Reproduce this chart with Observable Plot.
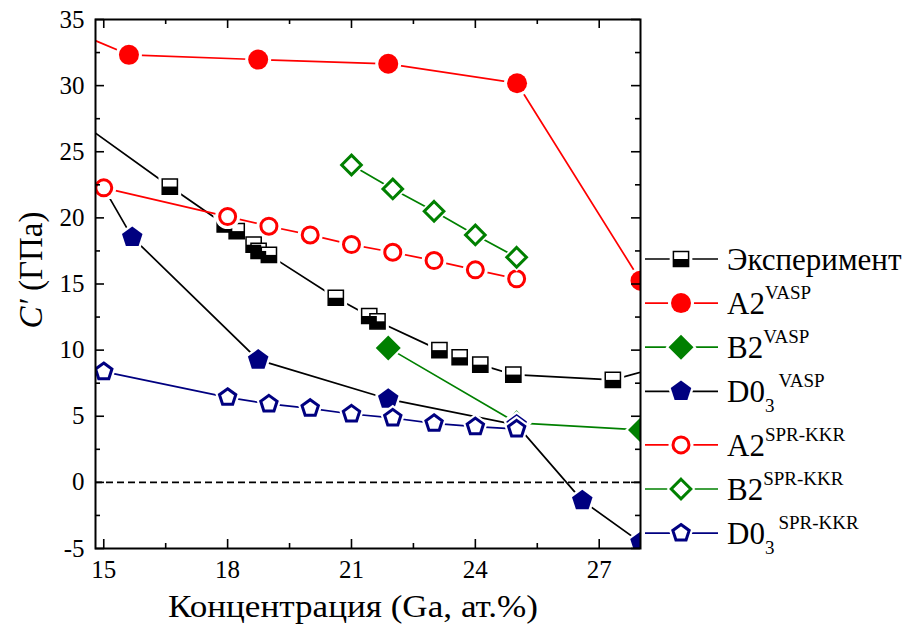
<!DOCTYPE html>
<html><head><meta charset="utf-8">
<script src="https://cdn.jsdelivr.net/npm/d3@7"></script>
<script src="https://cdn.jsdelivr.net/npm/@observablehq/plot@0.6"></script>
<style>body{margin:0;background:#fff} svg{display:block}</style>
</head><body><div id="chart"></div>
<script>
// ---- data ----
const expX   = [14.0, 16.6, 17.93, 18.22, 18.63, 18.75, 19.0, 20.62, 21.43, 21.63, 23.13, 23.62, 24.12, 24.92, 27.33, 28.5];
const expY   = [28.2, 22.37, 19.5, 19.0, 17.97, 17.5, 17.2, 13.96, 12.58, 12.18, 10.0, 9.46, 8.9, 8.15, 7.75, 8.75];
const a2vX   = [14.0, 15.61, 18.74, 21.89, 25.01, 28.0];
const a2vY   = [34.45, 32.33, 31.97, 31.65, 30.18, 15.25];
const b2vX   = [21.89, 25.0, 28.0];
const b2vY   = [10.17, 4.5, 3.96];
const d03vX  = [15.0, 15.69, 18.74, 21.89, 25.0, 26.59, 28.0];
const d03vY  = [22.27, 18.53, 9.26, 6.3, 4.35, -1.38, -4.54];
const a2sX   = [15.0, 18.0, 19.0, 20.0, 21.0, 22.0, 23.0, 24.0, 25.0];
const a2sY   = [22.27, 20.1, 19.37, 18.71, 17.98, 17.4, 16.77, 16.07, 15.39];
const b2sX   = [21.0, 22.0, 23.0, 24.0, 25.0];
const b2sY   = [24.0, 22.19, 20.5, 18.71, 17.02];
const d03sX  = [15.0, 18.0, 19.0, 20.0, 21.0, 22.0, 23.0, 24.0, 25.0];
const d03sY  = [8.37, 6.43, 5.93, 5.6, 5.17, 4.87, 4.46, 4.21, 4.04];

const xTicks = [15, 18, 21, 24, 27];
const xMinor = [16.5, 19.5, 22.5, 25.5];
const yTicks = [-5, 0, 5, 10, 15, 20, 25, 30, 35];
const yMinor = [-2.5, 2.5, 7.5, 12.5, 17.5, 22.5, 27.5, 32.5];

const seriesNames = ["Эксперимент", "A2", "B2", "D0", "A2", "B2", "D0"];
const seriesSubs  = ["", "", "", "3", "", "", "3"];
const seriesSups  = ["", "VASP", "VASP", "VASP", "SPR-KKR", "SPR-KKR", "SPR-KKR"];
const xLabel = "Концентрация (Ga, ат.%)";
const yLabelItalic = "C′";
const yLabelRest = " (ГПа)";

// ---- symbols ----
const pentagon = {draw(ctx, size) {
  const r = Math.sqrt(size / Math.PI);
  for (let i = 0; i < 5; i++) {
    const a = -Math.PI / 2 + i * 2 * Math.PI / 5;
    const x = r * Math.cos(a), y = r * Math.sin(a);
    if (i) ctx.lineTo(x, y); else ctx.moveTo(x, y);
  }
  ctx.closePath();
}};
const diamond = {draw(ctx, size) {
  const r = Math.sqrt(size / Math.PI);
  ctx.moveTo(0, -r); ctx.lineTo(r, 0); ctx.lineTo(0, r); ctx.lineTo(-r, 0); ctx.closePath();
}};
const square = {draw(ctx, size) {
  const r = Math.sqrt(size / Math.PI);
  ctx.moveTo(-r, -r); ctx.lineTo(r, -r); ctx.lineTo(r, r); ctx.lineTo(-r, r); ctx.closePath();
}};
const bottomHalf = {draw(ctx, size) {
  const r = Math.sqrt(size / Math.PI);
  ctx.moveTo(-r, 0); ctx.lineTo(r, 0); ctx.lineTo(r, r); ctx.lineTo(-r, r); ctx.closePath();
}};
const circle = {draw(ctx, size) {
  const r = Math.sqrt(size / Math.PI);
  ctx.moveTo(r, 0); ctx.arc(0, 0, r, 0, 2 * Math.PI); ctx.closePath();
}};

const RED = "#ff0000", GREEN = "#008000", NAVY = "#000080", BLACK = "#000000";
const series = [
  {xs: expX,  ys: expY,  line: BLACK, sym: square,   r: 7.6,  fill: "white", stroke: BLACK, sw: 1.5, half: true},
  {xs: a2vX,  ys: a2vY,  line: RED,   sym: circle,   r: 10,   fill: RED,     stroke: RED,   sw: 0},
  {xs: b2vX,  ys: b2vY,  line: GREEN, sym: diamond,  r: 12.5, fill: GREEN,   stroke: GREEN, sw: 0},
  {xs: d03vX, ys: d03vY, line: BLACK, sym: pentagon, r: 10.8, fill: NAVY,    stroke: NAVY,  sw: 0},
  {xs: a2sX,  ys: a2sY,  line: RED,   sym: circle,   r: 8,    fill: "white", stroke: RED,   sw: 3},
  {xs: b2sX,  ys: b2sY,  line: GREEN, sym: diamond,  r: 9.8,  fill: "white", stroke: GREEN, sw: 3},
  {xs: d03sX, ys: d03sY, line: NAVY,  sym: pentagon, r: 8.6,  fill: "white", stroke: NAVY,  sw: 3}
];
series.forEach(s => s.data = s.xs.map((x, i) => ({x, y: s.ys[i]})));

const W = 909, H = 630, mL = 95, mR = 269, mT = 19, mB = 82;
const iw = W - mL - mR, ih = H - mT - mB;
const GAP = 3;
const font = "'Liberation Serif', 'Times New Roman', serif";

const marks = [Plot.ruleY([0], {stroke: BLACK, strokeWidth: 1.8, strokeDasharray: "7,4"})];
for (const s of series) {
  marks.push(Plot.line(s.data, {x: "x", y: "y", stroke: s.line, strokeWidth: 1.7, clip: true}));
  marks.push(Plot.dot(s.data, {x: "x", y: "y", symbol: s.sym, r: s.r + s.sw / 2 + GAP, fill: "white", stroke: "none", clip: true}));
  marks.push(Plot.dot(s.data, {x: "x", y: "y", symbol: s.sym, r: s.r, fill: s.fill, stroke: s.sw ? s.stroke : "none", strokeWidth: s.sw, clip: true}));
  if (s.half) marks.push(Plot.dot(s.data, {x: "x", y: "y", symbol: bottomHalf, r: s.r, fill: BLACK, stroke: "none", clip: true}));
}
const tk = {stroke: BLACK, strokeWidth: 1.6};
marks.push(
  Plot.frame({stroke: BLACK, strokeWidth: 2}),
  Plot.tickX(xTicks, {x: d => d, insetTop: ih - 9, ...tk}),
  Plot.tickX(xTicks, {x: d => d, insetBottom: ih - 9, ...tk}),
  Plot.tickX(xMinor, {x: d => d, insetTop: ih - 5, ...tk}),
  Plot.tickX(xMinor, {x: d => d, insetBottom: ih - 5, ...tk}),
  Plot.tickY(yTicks, {y: d => d, insetRight: iw - 9, ...tk}),
  Plot.tickY(yTicks, {y: d => d, insetLeft: iw - 9, ...tk}),
  Plot.tickY(yMinor, {y: d => d, insetRight: iw - 5, ...tk}),
  Plot.tickY(yMinor, {y: d => d, insetLeft: iw - 5, ...tk}),
  Plot.axisX(xTicks, {tickSize: 0, tickPadding: 12, fontSize: 25, fontFamily: font, fill: BLACK, label: null, tickFormat: d => String(d)}),
  Plot.axisY(yTicks, {tickSize: 0, tickPadding: 11, fontSize: 25, fontFamily: font, fill: BLACK, label: null, tickFormat: d => String(d)})
);

const chart = Plot.plot({
  width: W, height: H,
  marginLeft: mL, marginRight: mR, marginTop: mT, marginBottom: mB,
  style: {fontFamily: font, color: "black", background: "white", overflow: "visible"},
  x: {domain: [14.8, 28.0]},
  y: {domain: [-5, 35]},
  marks
});
document.getElementById("chart").appendChild(chart);

// ---- labels & legend ----
const svg = d3.select(chart);
svg.append("text")
  .attr("x", 353).attr("y", 617).attr("text-anchor", "middle")
  .attr("font-family", font).attr("font-size", 32).attr("fill", "black")
  .attr("textLength", 370).attr("lengthAdjust", "spacingAndGlyphs")
  .text(xLabel);
const yl = svg.append("text")
  .attr("transform", "translate(42,270) rotate(-90)").attr("text-anchor", "middle")
  .attr("font-family", font).attr("font-size", 33).attr("fill", "black");
yl.append("tspan").attr("font-style", "italic").text(yLabelItalic);
yl.append("tspan").text(yLabelRest);

const lg = svg.append("g");
series.forEach((s, i) => {
  const cy = 259 + i * 44.1 + (i > 3 ? 9.5 : 0);
  const g = lg.append("g");
  g.append("line").attr("x1", 645).attr("x2", 718).attr("y1", cy).attr("y2", cy)
    .attr("stroke", s.line).attr("stroke-width", 1.7);
  const sz = r => Math.PI * r * r;
  g.append("path").attr("transform", `translate(681,${cy})`)
    .attr("d", d3.symbol(s.sym, sz(s.r + s.sw / 2 + GAP))()).attr("fill", "white");
  g.append("path").attr("transform", `translate(681,${cy})`)
    .attr("d", d3.symbol(s.sym, sz(s.r))()).attr("fill", s.fill)
    .attr("stroke", s.sw ? s.stroke : "none").attr("stroke-width", s.sw);
  if (s.half) g.append("path").attr("transform", `translate(681,${cy})`)
    .attr("d", d3.symbol(bottomHalf, sz(s.r))()).attr("fill", BLACK);
  const t = g.append("text").attr("x", 727).attr("y", cy + 11).attr("text-anchor", "start")
    .attr("font-family", font).attr("font-size", 31).attr("fill", "black");
  t.append("tspan").text(seriesNames[i]);
  if (seriesSubs[i]) {
    t.append("tspan").attr("font-size", 19).attr("dy", 10).text(seriesSubs[i]);
    t.append("tspan").attr("font-size", 19).attr("dy", -25).attr("dx", 4).text(seriesSups[i]);
  } else if (seriesSups[i]) {
    t.append("tspan").attr("font-size", 19).attr("dy", -15).text(seriesSups[i]);
  }
});
</script>
</body></html>
